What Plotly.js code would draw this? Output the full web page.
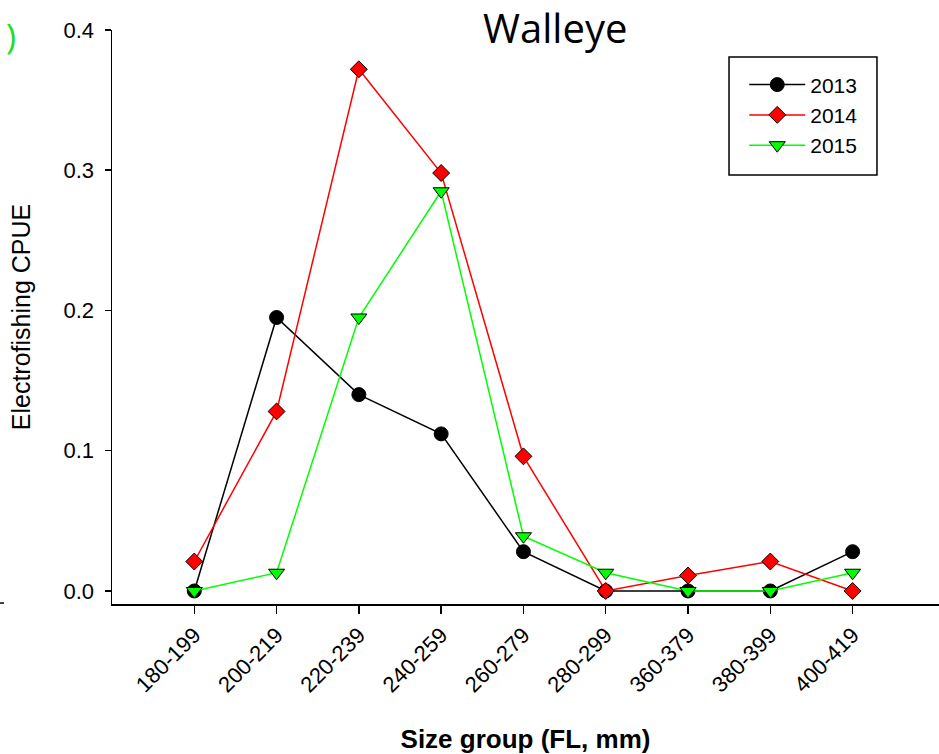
<!DOCTYPE html>
<html>
<head>
<meta charset="utf-8">
<script src="https://cdn.plot.ly/plotly-3.0.1.min.js"></script>
<style>html,body{margin:0;padding:0;background:#fff;}#chart{width:939px;height:754px;}</style>
</head>
<body>
<div id="chart"></div>
<script>
var sizeGroups = ["180-199","200-219","220-239","240-259","260-279","280-299","360-379","380-399","400-419"];
var cpue2013 = [0.000, 0.195, 0.140, 0.112, 0.028, 0.000, 0.000, 0.000, 0.028];
var cpue2014 = [0.021, 0.128, 0.372, 0.298, 0.096, 0.000, 0.011, 0.021, 0.000];
var cpue2015 = [0.000, 0.013, 0.195, 0.285, 0.039, 0.013, 0.000, 0.000, 0.013];
var yTicks = [0, 0.1, 0.2, 0.3, 0.4];
var yTickText = ["0.0", "0.1", "0.2", "0.3", "0.4"];

var xIdx = sizeGroups.map(function(_, i){ return i; });

function trace(name, y, color, symbol, size) {
  return {
    x: xIdx, y: y, name: name, type: "scatter", mode: "lines+markers",
    line: {color: color, width: 1.5},
    marker: {symbol: symbol, size: size, color: color, line: {color: "#000", width: 1}},
    cliponaxis: false
  };
}

var data = [
  trace("2013", cpue2013, "#000000", "circle", 14),
  trace("2014", cpue2014, "#ff0000", "diamond", 13),
  trace("2015", cpue2015, "#00ff00", "triangle-down", 14)
];

var font = "Liberation Sans, Arial, sans-serif";
var layout = {
  width: 939, height: 754,
  margin: {l: 112, r: 0, t: 30, b: 150},
  paper_bgcolor: "#fff", plot_bgcolor: "#fff",
  font: {family: font, size: 22, color: "#000"},
  title: {text: "Walleye", font: {family: "Open Sans, sans-serif", size: 40, color: "#000"},
          x: 0.536, xref: "paper", xanchor: "center", y: 0.962, yref: "container", yanchor: "middle"},
  xaxis: {
    range: [-1, 9.05], tickmode: "array", tickvals: xIdx, ticktext: sizeGroups,
    tickangle: -45, ticks: "outside", ticklen: 8, tickwidth: 1.5, tickcolor: "#000",
    showline: true, linecolor: "#000", linewidth: 1.5, showgrid: false, zeroline: false,
    tickfont: {size: 22},
    title: {text: "<b>Size group (FL, mm)</b>", font: {size: 26}, standoff: 34}
  },
  yaxis: {
    range: [-0.0093, 0.4], tickmode: "array", tickvals: yTicks, ticktext: yTickText,
    ticks: "outside", ticklen: 6, tickwidth: 1.5, tickcolor: "#000",
    showline: true, linecolor: "#000", linewidth: 1.5, showgrid: false, zeroline: false,
    tickfont: {size: 22}, ticklabelstandoff: 6,
    title: {text: "Electrofishing CPUE", font: {size: 25}, standoff: 26}
  },
  showlegend: true,
  legend: {x: 0.7645, y: 0.94, xanchor: "left", yanchor: "top", bgcolor: "rgba(0,0,0,0)",
           borderwidth: 0, font: {size: 21}, itemwidth: 56, tracegroupgap: 0},
  shapes: [
    {type: "rect", xref: "paper", yref: "paper", x0: 0.7461, x1: 0.9250, y0: 0.7474, y1: 0.9530,
     line: {color: "#000", width: 1.5}, fillcolor: "rgba(0,0,0,0)"},
    {type: "line", xref: "paper", yref: "paper", x0: -0.1354, x1: -0.1306, y0: 0.0017, y1: 0.0017,
     line: {color: "#000", width: 1.5}}
  ],
  annotations: [
    {text: ")", xref: "paper", yref: "paper", x: -0.1310, y: 0.9895, xanchor: "left", yanchor: "middle",
     showarrow: false, font: {family: "Open Sans, sans-serif", size: 34, color: "#22dd22"}}
  ]
};

Plotly.newPlot("chart", data, layout, {displayModeBar: false, staticPlot: true});
</script>
</body>
</html>
